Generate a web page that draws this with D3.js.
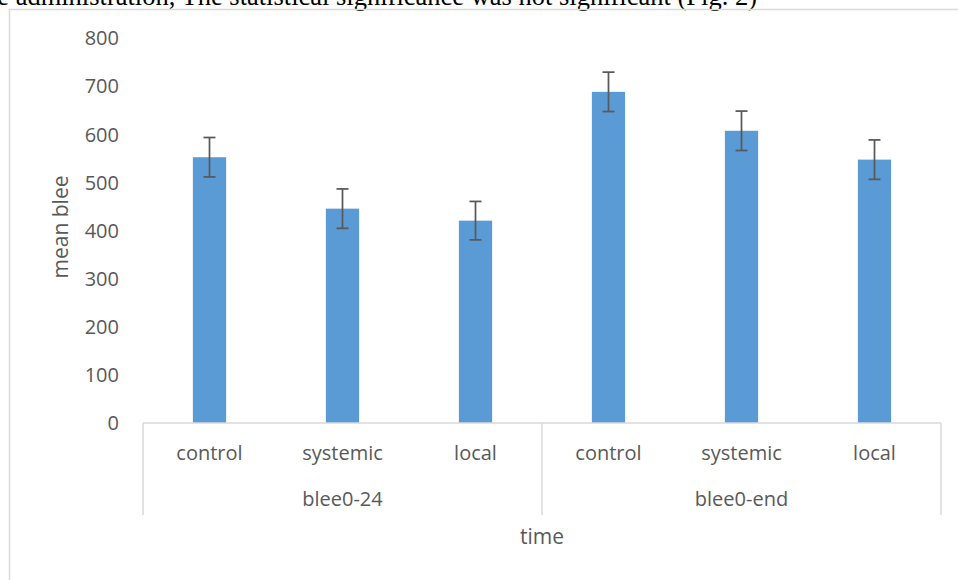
<!DOCTYPE html>
<html>
<head>
<meta charset="utf-8">
<script src="https://cdn.jsdelivr.net/npm/d3@7"></script>
<style>
  body { margin: 0; background: #fff; }
  svg { display: block; }
</style>
</head>
<body>
<div class="plot1"></div>
<script>
// data
var groups = ["blee0-24", "blee0-end"];
var treatments = ["control", "systemic", "local"];
var means24 = [553, 446, 421];
var meansEnd = [689, 608, 548];
var err24 = [41, 41, 40];
var errEnd = [41, 41, 41];
var yTicks = [0, 100, 200, 300, 400, 500, 600, 700, 800];

var W = 958, H = 580;
var textCol = "#595959", lineCol = "#d9d9d9", barCol = "#5b9bd5";
var font = "'Open Sans', sans-serif";

var rows = [];
groups.forEach(function(g, gi) {
  var m = gi === 0 ? means24 : meansEnd;
  var e = gi === 0 ? err24 : errEnd;
  treatments.forEach(function(t, ti) {
    rows.push({ group: g, cat: t, value: m[ti], err: e[ti] });
  });
});

var svg = d3.select(".plot1").append("svg")
  .attr("width", W)
  .attr("height", H);

// cut-off line of the paper text above the figure (clipped in the source too)
svg.append("text")
  .attr("x", 757)
  .attr("y", 5)
  .attr("text-anchor", "end")
  .style("font-family", "'Liberation Serif', 'Times New Roman', serif")
  .style("font-size", "26.5px")
  .style("fill", "#000")
  .text("e administration, The statistical significance was not significant (Fig. 2)");

// chart frame (left + top edges visible)
svg.append("path")
  .attr("d", "M9.5,580 V9.5 H958")
  .attr("fill", "none")
  .attr("stroke", lineCol)
  .attr("stroke-width", 1.5);

var y = d3.scaleLinear().domain([0, 800]).range([423, 38.5]);
var xGroup = d3.scaleBand().domain(groups).range([143, 941]);
var xCat = d3.scaleBand().domain(treatments).range([0, xGroup.bandwidth()]);
var barW = xCat.bandwidth() * 0.25;

function cx(d) {
  return xGroup(d.group) + xCat(d.cat) + xCat.bandwidth() / 2;
}

// y axis labels
var yAxis = svg.append("g")
  .attr("transform", "translate(127,0)")
  .call(d3.axisLeft(y).tickValues(yTicks).tickSize(0).tickPadding(8));
yAxis.select(".domain").remove();
yAxis.selectAll("text")
  .style("font-family", font)
  .style("font-size", "20px")
  .style("fill", textCol);

// bars
svg.selectAll("rect.bar")
  .data(rows)
  .enter()
  .append("rect")
  .attr("class", "bar")
  .attr("x", function(d) { return cx(d) - barW / 2; })
  .attr("y", function(d) { return y(d.value); })
  .attr("width", barW)
  .attr("height", function(d) { return y(0) - y(d.value); })
  .style("fill", barCol);

// error bars
var eb = svg.selectAll("g.err")
  .data(rows)
  .enter()
  .append("g")
  .attr("class", "err")
  .attr("stroke", "#595959")
  .attr("stroke-width", 1.75);
eb.append("line")
  .attr("x1", cx).attr("x2", cx)
  .attr("y1", function(d) { return y(d.value + d.err); })
  .attr("y2", function(d) { return y(d.value - d.err); });
eb.append("line")
  .attr("x1", function(d) { return cx(d) - 6; })
  .attr("x2", function(d) { return cx(d) + 6; })
  .attr("y1", function(d) { return y(d.value + d.err); })
  .attr("y2", function(d) { return y(d.value + d.err); });
eb.append("line")
  .attr("x1", function(d) { return cx(d) - 6; })
  .attr("x2", function(d) { return cx(d) + 6; })
  .attr("y1", function(d) { return y(d.value - d.err); })
  .attr("y2", function(d) { return y(d.value - d.err); });

// category axis with group separators
var axisG = svg.append("g")
  .attr("stroke", lineCol)
  .attr("stroke-width", 1.5);
axisG.append("line")
  .attr("x1", xGroup.range()[0]).attr("x2", xGroup.range()[1])
  .attr("y1", y(0)).attr("y2", y(0));
var seps = groups.map(function(g) { return xGroup(g); }).concat([xGroup.range()[1]]);
axisG.selectAll("line.sep")
  .data(seps)
  .enter()
  .append("line")
  .attr("class", "sep")
  .attr("x1", function(d) { return d; }).attr("x2", function(d) { return d; })
  .attr("y1", y(0)).attr("y2", 515);

svg.selectAll("text.cat")
  .data(rows)
  .enter()
  .append("text")
  .attr("class", "cat")
  .attr("x", cx)
  .attr("y", 453)
  .attr("dy", "0.35em")
  .attr("text-anchor", "middle")
  .style("font-family", font)
  .style("font-size", "20px")
  .style("fill", textCol)
  .text(function(d) { return d.cat; });

svg.selectAll("text.grp")
  .data(groups)
  .enter()
  .append("text")
  .attr("class", "grp")
  .attr("x", function(d) { return xGroup(d) + xGroup.bandwidth() / 2; })
  .attr("y", 499)
  .attr("dy", "0.35em")
  .attr("text-anchor", "middle")
  .style("font-family", font)
  .style("font-size", "20px")
  .style("fill", textCol)
  .text(function(d) { return d; });

// axis titles
svg.append("text")
  .attr("x", 542)
  .attr("y", 537)
  .attr("dy", "0.35em")
  .attr("text-anchor", "middle")
  .style("font-family", font)
  .style("font-size", "21px")
  .style("fill", textCol)
  .text("time");

svg.append("text")
  .attr("transform", "translate(61,227) rotate(-90)")
  .attr("dy", "0.35em")
  .attr("text-anchor", "middle")
  .style("font-family", font)
  .style("font-size", "21px")
  .style("fill", textCol)
  .text("mean blee");
</script>
</body>
</html>
